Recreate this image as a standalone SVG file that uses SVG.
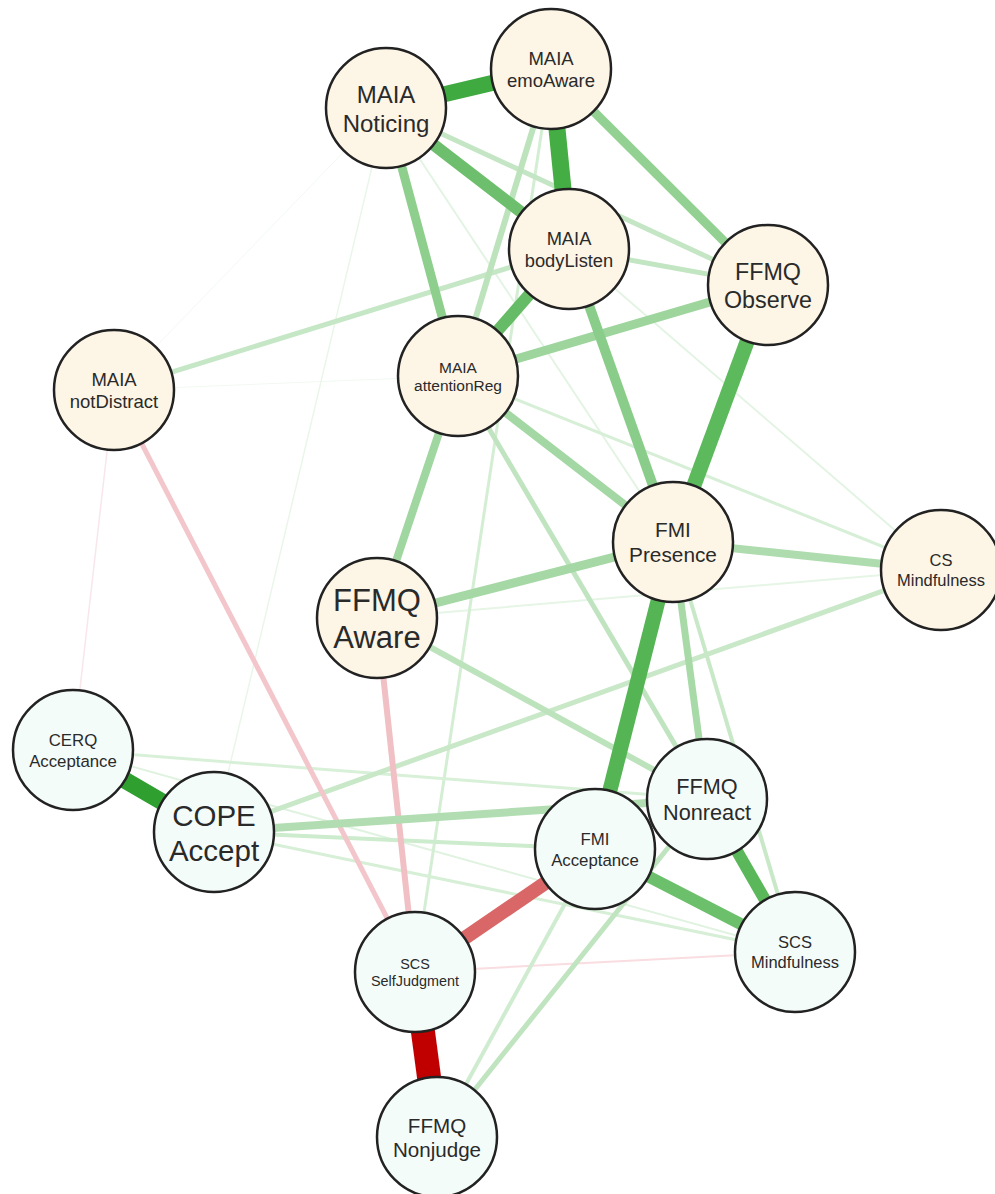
<svg xmlns="http://www.w3.org/2000/svg" width="995" height="1194" viewBox="0 0 995 1194">
<style>
.e{fill:none;stroke-linecap:butt}
.n circle{stroke:#222;stroke-width:2.5}
.u circle{fill:#FDF5E6}
.l circle{fill:#F4FCFA}
text{font-family:"Liberation Sans",Arial,sans-serif;fill:#2a2a2a;text-anchor:middle}
</style>
<rect width="995" height="1194" fill="#fff"/>
<g id="edges" class="e">
<line x1="386" y1="108" x2="114" y2="390" stroke="#F1F9F1" stroke-width="1"/>
<line x1="114" y1="390" x2="458" y2="376" stroke="#F1F9F1" stroke-width="1"/>
<line x1="114" y1="390" x2="73" y2="750" stroke="#F8E6EA" stroke-width="1.5"/>
<line x1="386" y1="108" x2="214" y2="832" stroke="#EAF6EA" stroke-width="1.5"/>
<line x1="386" y1="108" x2="673" y2="542" stroke="#E4F4E4" stroke-width="2"/>
<line x1="377" y1="618" x2="941" y2="570" stroke="#E6F5E6" stroke-width="2"/>
<line x1="569" y1="249" x2="941" y2="570" stroke="#E4F4E4" stroke-width="2"/>
<line x1="415" y1="972" x2="795" y2="952" stroke="#F9DDE0" stroke-width="2"/>
<line x1="73" y1="750" x2="795" y2="952" stroke="#E0F2E0" stroke-width="2"/>
<line x1="458" y1="376" x2="941" y2="570" stroke="#D6EFD6" stroke-width="3"/>
<line x1="551" y1="69" x2="415" y2="972" stroke="#D4EED4" stroke-width="3"/>
<line x1="73" y1="750" x2="707" y2="799" stroke="#D8F0D8" stroke-width="3"/>
<line x1="214" y1="832" x2="795" y2="952" stroke="#D6EFD6" stroke-width="3"/>
<line x1="214" y1="832" x2="595" y2="849" stroke="#CDEBCD" stroke-width="4"/>
<line x1="437" y1="1137" x2="595" y2="849" stroke="#D0ECD0" stroke-width="4"/>
<line x1="673" y1="542" x2="795" y2="952" stroke="#C8E8C8" stroke-width="4"/>
<line x1="114" y1="390" x2="569" y2="249" stroke="#C6E7C6" stroke-width="5"/>
<line x1="386" y1="108" x2="768" y2="285" stroke="#C4E6C4" stroke-width="5"/>
<line x1="569" y1="249" x2="768" y2="285" stroke="#C2E5C2" stroke-width="5"/>
<line x1="458" y1="376" x2="707" y2="799" stroke="#C0E4C0" stroke-width="5"/>
<line x1="941" y1="570" x2="214" y2="832" stroke="#C8E8C8" stroke-width="5"/>
<line x1="437" y1="1137" x2="707" y2="799" stroke="#BFE4BF" stroke-width="5"/>
<line x1="114" y1="390" x2="415" y2="972" stroke="#F2C6CA" stroke-width="5"/>
<line x1="377" y1="618" x2="415" y2="972" stroke="#F0C0C5" stroke-width="6"/>
<line x1="551" y1="69" x2="458" y2="376" stroke="#BCE3BC" stroke-width="6"/>
<line x1="377" y1="618" x2="707" y2="799" stroke="#BDE3BD" stroke-width="6"/>
<line x1="673" y1="542" x2="707" y2="799" stroke="#A8DAA8" stroke-width="7"/>
<line x1="214" y1="832" x2="707" y2="799" stroke="#B2DDB2" stroke-width="8"/>
<line x1="458" y1="376" x2="673" y2="542" stroke="#A3D7A3" stroke-width="8"/>
<line x1="458" y1="376" x2="377" y2="618" stroke="#A0D6A0" stroke-width="8"/>
<line x1="673" y1="542" x2="941" y2="570" stroke="#AEDCAE" stroke-width="8"/>
<line x1="377" y1="618" x2="673" y2="542" stroke="#A5D8A5" stroke-width="9"/>
<line x1="458" y1="376" x2="768" y2="285" stroke="#9DD59D" stroke-width="9"/>
<line x1="551" y1="69" x2="768" y2="285" stroke="#93D193" stroke-width="9"/>
<line x1="386" y1="108" x2="458" y2="376" stroke="#8ECF8E" stroke-width="9"/>
<line x1="569" y1="249" x2="673" y2="542" stroke="#8ACD8A" stroke-width="10"/>
<line x1="386" y1="108" x2="569" y2="249" stroke="#6DBF6D" stroke-width="12"/>
<line x1="569" y1="249" x2="458" y2="376" stroke="#66BC66" stroke-width="12"/>
<line x1="595" y1="849" x2="795" y2="952" stroke="#6CC06C" stroke-width="12"/>
<line x1="707" y1="799" x2="795" y2="952" stroke="#5AB75A" stroke-width="12"/>
<line x1="595" y1="849" x2="415" y2="972" stroke="#DA6767" stroke-width="14"/>
<line x1="768" y1="285" x2="673" y2="542" stroke="#5CB95C" stroke-width="15"/>
<line x1="673" y1="542" x2="595" y2="849" stroke="#55B555" stroke-width="15"/>
<line x1="386" y1="108" x2="551" y2="69" stroke="#3FAA3F" stroke-width="16"/>
<line x1="551" y1="69" x2="569" y2="249" stroke="#44AE44" stroke-width="17"/>
<line x1="73" y1="750" x2="214" y2="832" stroke="#2F9F2F" stroke-width="17"/>
<line x1="415" y1="972" x2="437" y2="1137" stroke="#C00000" stroke-width="24"/>
</g>
<g id="maia-noticing" class="n u"><circle cx="386" cy="108" r="60"/><text font-size="24"><tspan x="386" y="102.7">MAIA</tspan><tspan x="386" y="131.5">Noticing</tspan></text></g>
<g id="maia-emoaware" class="n u"><circle cx="551" cy="69" r="60"/><text font-size="18.5"><tspan x="551" y="64.9">MAIA</tspan><tspan x="551" y="87.1">emoAware</tspan></text></g>
<g id="maia-bodylisten" class="n u"><circle cx="569" cy="249" r="60"/><text font-size="18.3"><tspan x="569" y="245">MAIA</tspan><tspan x="569" y="267">bodyListen</tspan></text></g>
<g id="ffmq-observe" class="n u"><circle cx="768" cy="285" r="60"/><text font-size="23.3"><tspan x="768" y="279.9">FFMQ</tspan><tspan x="768" y="307.9">Observe</tspan></text></g>
<g id="maia-attentionreg" class="n u"><circle cx="458" cy="376" r="60"/><text font-size="15.5"><tspan x="458" y="372.6">MAIA</tspan><tspan x="458" y="391.2">attentionReg</tspan></text></g>
<g id="maia-notdistract" class="n u"><circle cx="114" cy="390" r="60"/><text font-size="18.5"><tspan x="114" y="386">MAIA</tspan><tspan x="114" y="408.2">notDistract</tspan></text></g>
<g id="fmi-presence" class="n u"><circle cx="673" cy="542" r="60"/><text font-size="20.8"><tspan x="673" y="537.4">FMI</tspan><tspan x="673" y="562.4">Presence</tspan></text></g>
<g id="cs-mindfulness" class="n u"><circle cx="941" cy="570" r="60"/><text font-size="16.5"><tspan x="941" y="566.4">CS</tspan><tspan x="941" y="586.2">Mindfulness</tspan></text></g>
<g id="ffmq-aware" class="n u"><circle cx="377" cy="618" r="60"/><text font-size="31"><tspan x="377" y="611.2">FFMQ</tspan><tspan x="377" y="648.4">Aware</tspan></text></g>
<g id="cerq-acceptance" class="n l"><circle cx="73" cy="750" r="60"/><text font-size="16.8"><tspan x="73" y="746.3">CERQ</tspan><tspan x="73" y="766.5">Acceptance</tspan></text></g>
<g id="cope-accept" class="n l"><circle cx="214" cy="832" r="60"/><text font-size="29.5"><tspan x="214" y="825.5">COPE</tspan><tspan x="214" y="860.9">Accept</tspan></text></g>
<g id="ffmq-nonreact" class="n l"><circle cx="707" cy="799" r="60"/><text font-size="21.7"><tspan x="707" y="794.2">FFMQ</tspan><tspan x="707" y="820.3">Nonreact</tspan></text></g>
<g id="fmi-acceptance" class="n l"><circle cx="595" cy="849" r="60"/><text font-size="16.8"><tspan x="595" y="845.3">FMI</tspan><tspan x="595" y="865.5">Acceptance</tspan></text></g>
<g id="scs-mindfulness" class="n l"><circle cx="795" cy="952" r="60"/><text font-size="16.5"><tspan x="795" y="948.4">SCS</tspan><tspan x="795" y="968.2">Mindfulness</tspan></text></g>
<g id="scs-selfjudgment" class="n l"><circle cx="415" cy="972" r="60"/><text font-size="14.4"><tspan x="415" y="968.8">SCS</tspan><tspan x="415" y="986.1">SelfJudgment</tspan></text></g>
<g id="ffmq-nonjudge" class="n l"><circle cx="437" cy="1137" r="60"/><text font-size="20.6"><tspan x="437" y="1132.5">FFMQ</tspan><tspan x="437" y="1157.2">Nonjudge</tspan></text></g>
</svg>
